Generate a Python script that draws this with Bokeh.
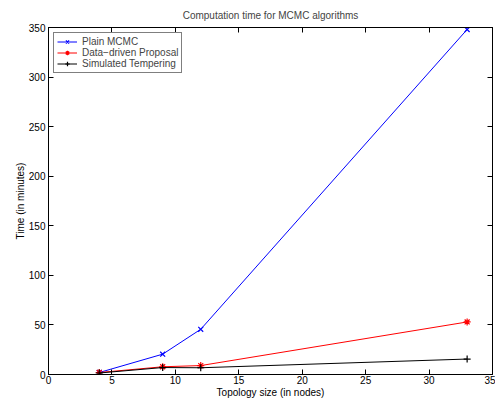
from bokeh.plotting import figure
from bokeh.models import LinearAxis, FixedTicker, Range1d
from bokeh.embed import file_html
from bokeh.resources import INLINE

nodes = [4, 9, 12, 33]
plain_mcmc = [2, 20.5, 45.6, 348]
data_driven = [2, 7.8, 9, 53]
sim_tempering = [1.5, 7, 6.8, 15.6]
x_ticks = [0, 5, 10, 15, 20, 25, 30, 35]
y_ticks = [0, 50, 100, 150, 200, 250, 300, 350]

FONT = "Liberation Sans"

p = figure(width=495, height=400, output_backend="svg", toolbar_location=None,
           x_range=Range1d(0, 35), y_range=Range1d(0, 350),
           min_border_left=48, min_border_right=3, min_border_top=27, min_border_bottom=0,
           title="Computation time for MCMC algorithms")
p.title.align = "center"
p.title.vertical_align = "top"
p.title.text_font = FONT
p.title.text_font_size = "10px"
p.title.text_font_style = "normal"
p.title.offset = 0
p.title.standoff = 9

p.grid.visible = False
p.outline_line_color = "black"
p.outline_line_width = 1
p.background_fill_color = "white"
p.border_fill_color = "white"

p.xaxis.axis_label = "Topology size (in nodes)"
p.yaxis.axis_label = "Time (in minutes)"
for ax in p.xaxis + p.yaxis:
    ax.ticker = FixedTicker(ticks=x_ticks if ax in p.xaxis else y_ticks)
    ax.major_tick_in = 5
    ax.major_tick_out = 0
    ax.minor_tick_line_color = None
    ax.axis_line_color = "black"
    ax.major_tick_line_color = "black"
    ax.major_label_text_font = FONT
    ax.major_label_text_font_size = "10px"
    ax.major_label_text_color = "black"
    ax.axis_label_text_font = FONT
    ax.axis_label_text_font_size = "10px"
    ax.axis_label_text_font_style = "normal"
    ax.axis_label_text_color = "black"
p.xaxis.major_label_standoff = 1
p.xaxis.axis_label_standoff = 0
p.yaxis.major_label_standoff = 3
p.yaxis.axis_label_standoff = 0

for loc, ticks in (("above", x_ticks), ("right", y_ticks)):
    ax = LinearAxis(ticker=FixedTicker(ticks=ticks), major_tick_in=5, major_tick_out=0,
                    minor_tick_line_color=None, major_label_text_color=None,
                    major_label_text_font_size="1px",
                    major_label_standoff=0, axis_line_color="black")
    p.add_layout(ax, loc)

series = [
    (plain_mcmc, "blue", "x", "Plain MCMC"),
    (data_driven, "red", "asterisk", "Data\u2212driven Proposal"),
    (sim_tempering, "black", "cross", "Simulated Tempering"),
]
for ys, color, marker, label in series:
    p.line(nodes, ys, line_color=color, line_width=1, legend_label=label)
    p.scatter(nodes, ys, marker=marker, size=7, line_color=color, line_width=1.2,
              fill_color=None, legend_label=label)

lg = p.legend[0]
lg.location = "top_left"
lg.margin = 5
lg.padding = 3
lg.spacing = 0
lg.glyph_width = 20
lg.glyph_height = 11
lg.label_height = 11
lg.label_standoff = 5
lg.label_text_font = FONT
lg.label_text_font_size = "10px"
lg.border_line_color = "black"
lg.border_line_width = 1
lg.background_fill_alpha = 1

open("out.html", "w").write(file_html(p, INLINE))
